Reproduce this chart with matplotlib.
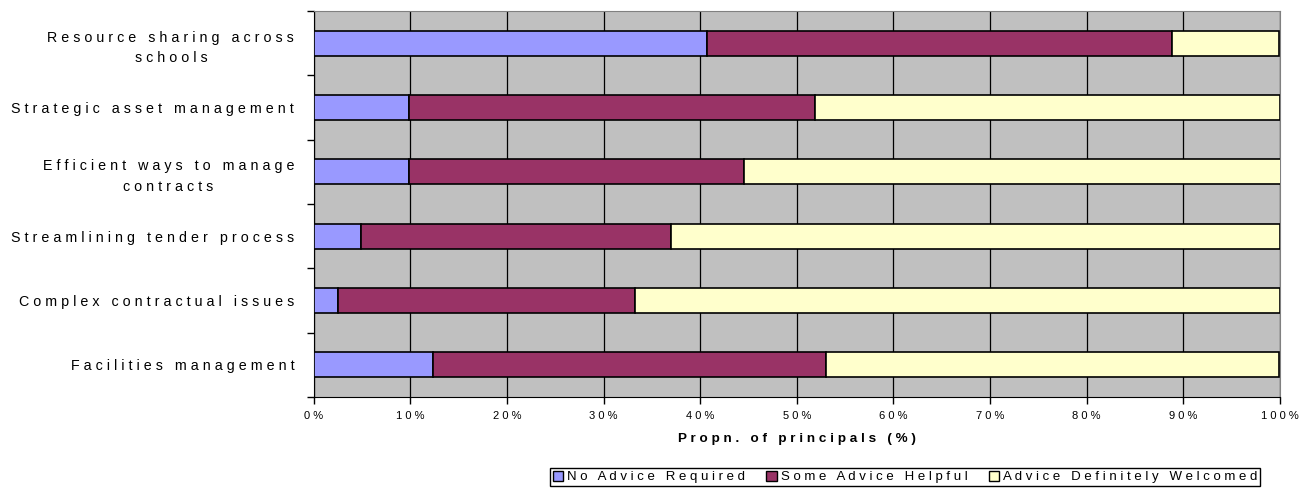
import numpy as np
import matplotlib.pyplot as plt
from matplotlib.patches import Patch

plt.rcParams['font.family'] = ['Liberation Sans', 'DejaVu Sans']

categories = ['Resource sharing across\nschools',
              'Strategic asset management',
              'Efficient ways to manage\ncontracts',
              'Streamlining tender process',
              'Complex contractual issues',
              'Facilities management']
no_advice = [40.7, 9.9, 9.9, 4.9, 2.5, 12.3]
some_advice = [48.1, 42.0, 34.6, 32.1, 30.8, 40.7]
welcomed = [11.1, 48.1, 55.6, 63.0, 66.7, 46.9]
series_names = ['No Advice Required', 'Some Advice Helpful', 'Advice Definitely Welcomed']
colors = ['#9999FF', '#993366', '#FFFFCC']
xticks = np.arange(0, 101, 10)


def spaced(s):
    # wide letter tracking, like the old spreadsheet export
    return '\n'.join(' '.join(line) for line in s.split('\n'))


fig = plt.figure(figsize=(13.08, 4.9), dpi=100)
ax = fig.add_axes([0.2398, 0.1898, 0.7388, 0.7878])
ax.set_facecolor('#C0C0C0')

y = np.arange(len(categories))
left = np.zeros(len(categories))
for vals, col in zip([no_advice, some_advice, welcomed], colors):
    ax.barh(y, vals, left=left, height=0.39, color=col,
            edgecolor='black', linewidth=1.2, zorder=3)
    left += np.array(vals)

ax.set_xlim(0, 100)
ax.set_ylim(len(categories) - 0.5, -0.5)

ax.set_xticks(xticks)
ax.set_xticklabels([spaced(f'{v}%') for v in xticks], fontsize=8)
ax.xaxis.grid(True, color='black', linewidth=0.9, zorder=1)
ax.set_axisbelow(True)
ax.tick_params(axis='x', direction='out', length=5, width=1, pad=5)

ax.set_yticks(y)
ax.set_yticklabels([spaced(c) for c in categories], fontsize=10.3,
                   multialignment='center', linespacing=1.6)
ax.set_yticks(np.arange(-0.5, len(categories)), minor=True)
ax.tick_params(axis='y', which='major', length=0, pad=14)
ax.tick_params(axis='y', which='minor', direction='out', length=5, width=1)

for side in ['top', 'right']:
    ax.spines[side].set_color('#808080')
for side in ['left', 'bottom']:
    ax.spines[side].set_color('black')

ax.set_xlabel(spaced('Propn. of principals (%)'), fontsize=9.7,
              fontweight='bold', labelpad=9)

handles = [Patch(facecolor=c, edgecolor='black', linewidth=1) for c in colors]
fig.legend(handles, [spaced(n) for n in series_names], loc='upper left',
           bbox_to_anchor=(550 / 1308, 1 - 468 / 490), ncol=3, fontsize=9.5,
           frameon=True, fancybox=False, edgecolor='black', framealpha=1,
           handlelength=0.8, handleheight=0.8, handletextpad=0.3,
           columnspacing=1.6, borderpad=0.2, borderaxespad=0)

fig.savefig('out.png', dpi=100)
